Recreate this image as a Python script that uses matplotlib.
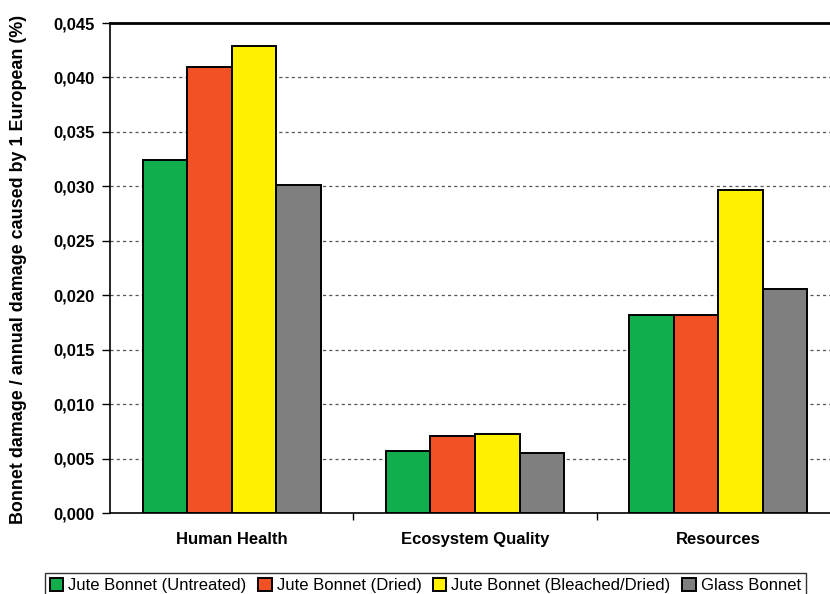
import numpy as np
import matplotlib.pyplot as plt

plt.rcParams['font.family'] = ['Liberation Sans', 'DejaVu Sans']

categories = ['Human Health', 'Ecosystem Quality', 'Resources']
series_names = ['Jute Bonnet (Untreated)', 'Jute Bonnet (Dried)',
                'Jute Bonnet (Bleached/Dried)', 'Glass Bonnet']
untreated = [0.0324, 0.0057, 0.0182]
dried = [0.0410, 0.0071, 0.0182]
bleached = [0.0429, 0.0073, 0.0297]
glass = [0.0301, 0.0055, 0.0206]
yticks = [0.000, 0.005, 0.010, 0.015, 0.020, 0.025, 0.030, 0.035, 0.040, 0.045]

colors = ['#10AE4D', '#F15125', '#FFF100', '#7F7F7F']

fig = plt.figure(figsize=(8.3, 5.94), dpi=100)
ax = fig.add_axes([110 / 830, 1 - 513 / 594, 730 / 830, 490 / 594])

x = np.arange(len(categories))
width = 0.183
for i, (vals, name, col) in enumerate(zip([untreated, dried, bleached, glass],
                                          series_names, colors)):
    ax.bar(x + (i - 1.5) * width, vals, width, color=col, edgecolor='black',
           linewidth=1.4, label=name, zorder=3)

ax.set_xlim(-0.5, 2.5)
ax.set_ylim(0, 0.045)
ax.set_yticks(yticks)
ax.set_yticklabels([f'{v:.3f}'.replace('.', ',') for v in yticks],
                   fontsize=12, fontweight='bold')
for v in yticks[1:-1]:
    ax.axhline(v, color='#555555', linewidth=0.9, linestyle=(0, (2.5, 2.5)), zorder=1)

ax.set_xticks(x)
ax.set_xticklabels(categories, fontsize=12, fontweight='bold')
ax.tick_params(axis='x', length=0, pad=14)
ax.set_xticks([0.5, 1.5, 2.5], minor=True)
ax.tick_params(axis='x', which='minor', length=5, width=1, direction='out')
ax.tick_params(axis='y', length=6, width=1, direction='out', pad=5)

ax.set_ylabel('Bonnet damage / annual damage caused by 1 European (%)',
              fontsize=12.9, fontweight='bold')
ax.yaxis.set_label_coords(-83 / 730, 0.497)

for side in ['left', 'bottom']:
    ax.spines[side].set_linewidth(1.2)
ax.spines['top'].set_linewidth(2)
ax.spines['right'].set_visible(False)

leg = fig.legend(loc='upper left', bbox_to_anchor=(45 / 830, 1 - 573 / 594),
                 ncol=4, fontsize=12, handlelength=0.8, handleheight=0.8,
                 handletextpad=0.3, columnspacing=0.7, borderaxespad=0,
                 borderpad=0.3, fancybox=False, frameon=True)
leg.get_frame().set_edgecolor('black')
leg.get_frame().set_linewidth(1)

fig.savefig('out.png', dpi=100)
